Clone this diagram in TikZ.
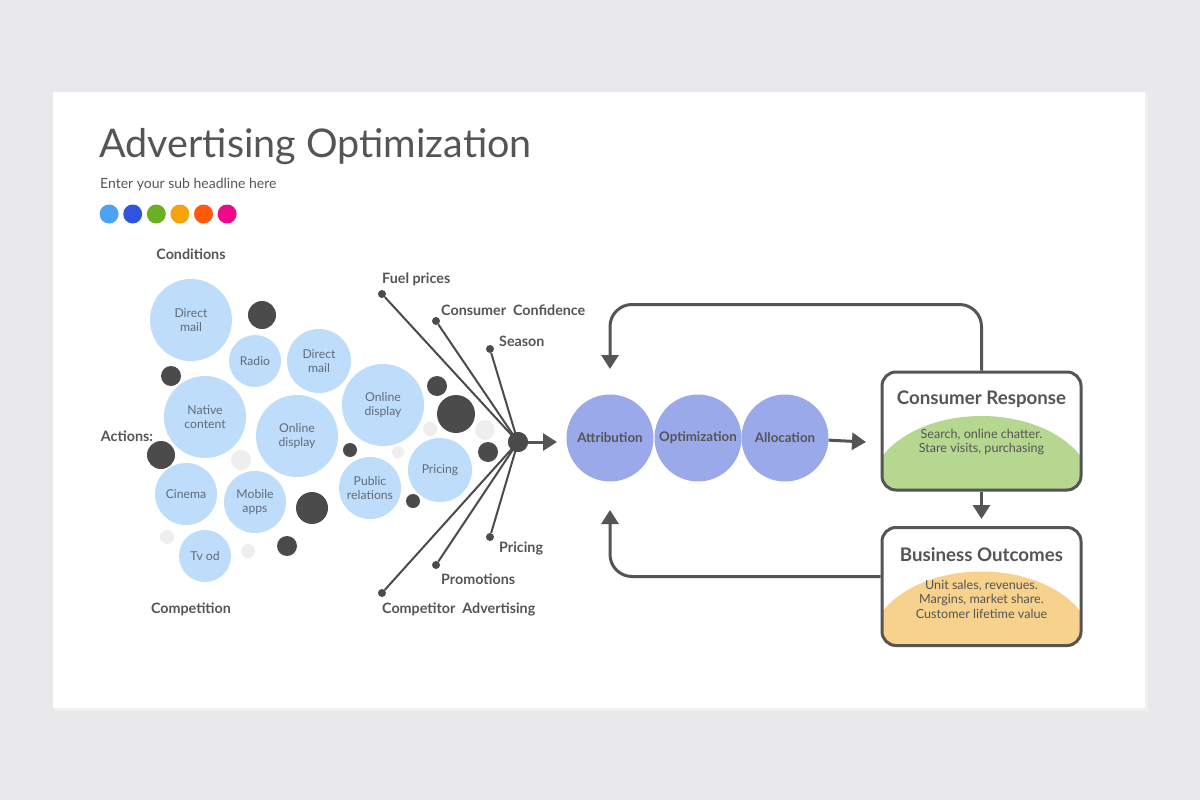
\documentclass[tikz,border=0pt]{standalone}
\usepackage{fontspec}
\setmainfont{Lato}
\usetikzlibrary{arrows.meta}

\definecolor{pagebg}{HTML}{E9E8EA}
\definecolor{ink}{HTML}{555555}
\definecolor{bubblefill}{HTML}{BEDDFA}
\definecolor{bubbletext}{HTML}{5E6C7C}
\definecolor{darkdotcol}{HTML}{4B4B4B}
\definecolor{lightdotcol}{HTML}{EEEEEE}
\definecolor{procfill}{HTML}{99A9EA}
\definecolor{domegreen}{HTML}{B6D790}
\definecolor{domeyellow}{HTML}{F6D28C}
\definecolor{cA}{HTML}{4BA3F5}
\definecolor{cB}{HTML}{2F55E0}
\definecolor{cC}{HTML}{6AB023}
\definecolor{cD}{HTML}{F5A30A}
\definecolor{cE}{HTML}{FF5A0A}
\definecolor{cF}{HTML}{F0088A}

\tikzset{
	bubble/.style={circle,fill=bubblefill,text=bubbletext,align=center,inner sep=0pt,
		font=\fontsize{12.2}{14}\selectfont},
	darkdot/.style={circle,fill=darkdotcol,inner sep=0pt},
	lightdot/.style={circle,fill=lightdotcol,inner sep=0pt},
	tipdot/.style={circle,fill=darkdotcol,inner sep=0pt,minimum size=8pt},
	spoke/.style={draw=darkdotcol,line width=2pt},
	sidelabel/.style={anchor=west,text=ink,inner sep=0pt,font=\bfseries\fontsize{14.3}{16}\selectfont},
	proc/.style={circle,fill=procfill,text=ink,inner sep=0pt,minimum size=87pt,
		font=\bfseries\fontsize{13.3}{15}\selectfont},
	flow/.style={draw=ink,line width=3pt,-{Triangle[length=14pt,width=17pt]}},
	outbox/.style={draw=ink,line width=3pt,fill=white,rounded corners=14pt,
		minimum width=199pt,minimum height=118pt,inner sep=0pt},
	boxtitle/.style={text=ink,font=\bfseries\fontsize{18.7}{20}\selectfont},
	boxtext/.style={text=ink,align=center,font=\fontsize{12.6}{14.5}\selectfont}
}

\begin{document}
\begin{tikzpicture}[x=1pt,y=-1pt]
	\useasboundingbox (0,0) rectangle (1200,800);
	\fill[pagebg] (0,0) rectangle (1200,800);
	\fill[black!6] (55,95) rectangle (1148,711);
	\fill[white] (53,92) rectangle (1145,708);

	% heading
	\node[anchor=base west,inner sep=0pt,text=ink,font=\fontsize{39.5}{42}\selectfont] (title) at (99,157) {Advertising Optimization};
	\node[anchor=base west,inner sep=0pt,text=ink,font=\fontsize{14}{16}\selectfont] (subtitle) at (100,188) {Enter your sub headline here};
	\foreach \c [count=\i] in {cA,cB,cC,cD,cE,cF}
	{
		\node[circle,fill=\c,inner sep=0pt,minimum size=19pt] (swatch\i) at (85.5+\i*23.6,214) {};
	}

	% bubble cloud
	\node[sidelabel,anchor=center] (conditions) at (191,254) {Conditions};
	\node[sidelabel,anchor=center] (actions) at (127,436) {Actions:};
	\node[sidelabel,anchor=center] (competition) at (191,609) {Competition};

	\foreach \x/\y/\r [count=\i] in {241/460/10,398/452/6,430/429/7,485/430/10,167/537/7,248/551/7}
	{
		\node[lightdot,minimum size=2*\r pt] (l\i) at (\x,\y) {};
	}
	\foreach \x/\y/\r/\t [count=\i] in {191/320/41/{Direct\\mail},255/361/26/{Radio},319/361/32/{Direct\\mail},
		205/417/41/{Native\\content},297/436/41/{Online\\display},383/405/41/{Online\\display},
		186/494/31/{Cinema},255/502/31/{Mobile\\apps},370/488/31/{Public\\relations},
		440/470/32/{Pricing},205/556/26/{Tv od}}
	{
		\node[bubble,minimum size=2*\r pt] (b\i) at (\x,\y) {\t};
	}
	\foreach \x/\y/\r [count=\i] in {262/315/14,171/376/10,161/455/14,312/508/16,287/546/10,
		350/450/7,413/501/7,437/386/10,456/414/19,488/452/10}
	{
		\node[darkdot,minimum size=2*\r pt] (d\i) at (\x,\y) {};
	}

	% outside factors
	\node[darkdot,minimum size=20pt] (hub) at (518,442) {};
	\foreach \n/\x/\y in {fuel/382/294,conf/436/321,season/490/349,pricing/490/537,promo/436/565,compadv/382/593}
	{
		\node[tipdot] (\n) at (\x,\y) {};
		\draw[spoke] (hub.center) -- (\n);
	}
	\node[sidelabel] (fuellbl) at (382,279) {Fuel prices};
	\node[sidelabel] (conflbl) at (441,310) {Consumer~ Confidence};
	\node[sidelabel] (seasonlbl) at (499,341) {Season};
	\node[sidelabel] (pricinglbl) at (499,548) {Pricing};
	\node[sidelabel] (promolbl) at (441,579) {Promotions};
	\node[sidelabel] (compadvlbl) at (382,609) {Competitor~ Advertising};
	\node[darkdot,minimum size=20pt] (hubtop) at (518,442) {};
	\coordinate (hubout) at (557,442);
	\draw[flow] (hub) -- (hubout);

	% process
	\node[proc] (attr) at (610,438) {Attribution};
	\node[proc] (optim) at (698,438) {Optimization};
	\node[proc] (alloc) at (785,438) {Allocation};
	\coordinate (crin) at (866,442);
	\draw[flow] (alloc) -- (crin);

	% outcome boxes
	\node[outbox,path picture={\fill[domegreen] ([yshift=1pt]path picture bounding box.south) ellipse (111pt and 73pt);}]
		(cr) at (981.5,431) {};
	\node[boxtitle] (crtitle) at (981.5,399) {Consumer Response};
	\node[boxtext] (crtext) at (981.5,442) {Search, online chatter.\\Stare visits, purchasing};

	\node[outbox,path picture={\fill[domeyellow] ([yshift=1pt]path picture bounding box.south) ellipse (111pt and 73pt);}]
		(bo) at (981.5,586.5) {};
	\node[boxtitle] (botitle) at (981.5,555) {Business Outcomes};
	\node[boxtext] (botext) at (981.5,599) {Unit sales, revenues.\\Margins, market share.\\Customer lifetime value};

	\coordinate (boin) at (981.5,519);
	\draw[flow] (cr) -- (boin);

	% feedback loops
	\coordinate (fbtop) at (610,369);
	\coordinate (fbbot) at (610,510);
	\draw[flow,rounded corners=22pt] (cr.north) -- ++(0,-66) -| (fbtop);
	\draw[flow,rounded corners=22pt] ([yshift=10pt]bo.west) -| (fbbot);
\end{tikzpicture}
\end{document}
